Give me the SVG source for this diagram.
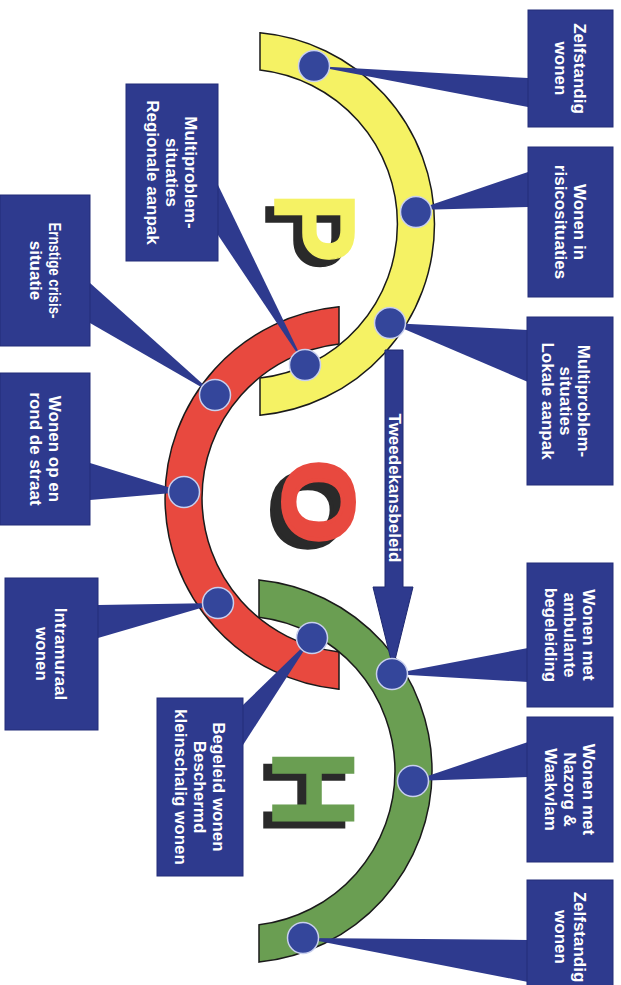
<svg xmlns="http://www.w3.org/2000/svg" width="621" height="985" viewBox="0 0 621 985">
<style>
.box{fill:#2e3a8e;stroke:#232d78;stroke-width:1}
.bt{font-family:"Liberation Sans",Arial,sans-serif;font-weight:bold;font-size:17px;fill:#ffffff;text-anchor:middle}
.band{stroke:#1a1a1a;stroke-width:1.5}
.wedge{fill:#2e3a8e}
.dot{fill:#34469b;stroke:#c9d0ee;stroke-width:1.5}
.big{font-family:"Liberation Sans",Arial,sans-serif;font-weight:bold;text-anchor:middle}
</style>
<rect width="621" height="985" fill="#ffffff"/>

<g id="arc-yellow"><path class="band" fill="#f5f264" d="M260,32.8 A192,192 0 0 1 260,415.2 L260,378 A155,155 0 0 0 260,70 Z"/></g>
<g id="arc-red"><path class="band" fill="#e8493f" d="M339,306.85 A192,192 0 0 0 339,689.15 L339,651.95 A155,155 0 0 1 339,344.05 Z"/></g>
<g id="arc-green"><path class="band" fill="#6a9e52" d="M259,579.94 A192,192 0 0 1 259,962.06 L259,924.83 A155,155 0 0 0 259,617.17 Z"/></g>

<g id="letter-P">
<text class="big" font-size="115" fill="#2a2a2a" stroke="#2a2a2a" stroke-width="1.5" transform="translate(266,235) rotate(90) scale(0.92,1)">P</text>
<text class="big" font-size="115" fill="#f5f264" stroke="#f5f264" stroke-width="1.5" transform="translate(275,227.5) rotate(90) scale(0.92,1)">P</text>
</g>
<g id="letter-O">
<text class="big" font-size="100" fill="#2a2a2a" stroke="#2a2a2a" stroke-width="4" transform="translate(273,510) rotate(90) scale(1.08,1)">O</text>
<text class="big" font-size="100" fill="#e8493f" stroke="#e8493f" stroke-width="4" transform="translate(284,502) rotate(90) scale(1.08,1)">O</text>
</g>
<g id="letter-H">
<text class="big" font-size="117" fill="#2a2a2a" stroke="#2a2a2a" stroke-width="1.5" transform="translate(264,796) rotate(90) scale(0.92,1)">H</text>
<text class="big" font-size="117" fill="#6a9e52" stroke="#6a9e52" stroke-width="1.5" transform="translate(273,789) rotate(90) scale(0.92,1)">H</text>
</g>

<g id="connectors">
<polygon class="wedge" points="528,78 528,107 314,66"/>
<polygon class="wedge" points="528,172 528,207 416,210"/>
<polygon class="wedge" points="528,330 528,382 390,323"/>
<polygon class="wedge" points="528,648 528,682 392,674"/>
<polygon class="wedge" points="528,742 528,777 413,781"/>
<polygon class="wedge" points="528,940 528,982 303,938"/>
<polygon class="wedge" points="218,185 218,235 305,365"/>
<polygon class="wedge" points="90,283 90,323 215,395"/>
<polygon class="wedge" points="90,463 90,500 184,492"/>
<polygon class="wedge" points="98,605 98,638 218,603"/>
<polygon class="wedge" points="243,705 243,745 312,638"/>
</g>

<g id="arrow-tweedekans">
<polygon fill="#2e3a8e" stroke="#1e2870" stroke-width="1" points="385,350 403,350 403,587 413,587 393,668 373,587 385,587"/>
<text class="bt" transform="translate(389,488) rotate(90)">Tweedekansbeleid</text>
</g>

<g id="dots">
<circle class="dot" cx="314" cy="66" r="15.5"/>
<circle class="dot" cx="416" cy="212" r="15.5"/>
<circle class="dot" cx="390" cy="323" r="15.5"/>
<circle class="dot" cx="305" cy="365" r="15.5"/>
<circle class="dot" cx="215" cy="395" r="15.5"/>
<circle class="dot" cx="184" cy="492" r="15.5"/>
<circle class="dot" cx="218" cy="603" r="15.5"/>
<circle class="dot" cx="312" cy="638" r="15.5"/>
<circle class="dot" cx="392" cy="674" r="15.5"/>
<circle class="dot" cx="413" cy="781" r="15.5"/>
<circle class="dot" cx="303" cy="938" r="15.5"/>
</g>

<g id="box-zelfstandig-1"><rect class="box" x="528" y="10" width="85" height="117"/>
<text class="bt" transform="translate(570.5,68.5) rotate(90)"><tspan x="0" y="-3.5">Zelfstandig</tspan><tspan x="0" y="15.5">wonen</tspan></text></g>
<g id="box-risico"><rect class="box" x="528" y="147" width="85" height="150"/>
<text class="bt" transform="translate(570.5,222) rotate(90)"><tspan x="0" y="-3.5">Wonen in</tspan><tspan x="0" y="15.5">risicosituaties</tspan></text></g>
<g id="box-lokaal"><rect class="box" x="527" y="317" width="86" height="168"/>
<text class="bt" transform="translate(566,401) rotate(90)"><tspan x="0" y="-12">Multiproblem-</tspan><tspan x="0" y="6">situaties</tspan><tspan x="0" y="24">Lokale aanpak</tspan></text></g>
<g id="box-ambulant"><rect class="box" x="527" y="563" width="86" height="144"/>
<text class="bt" transform="translate(570,635) rotate(90)"><tspan x="0" y="-13">Wonen met</tspan><tspan x="0" y="6">ambulante</tspan><tspan x="0" y="25">begeleiding</tspan></text></g>
<g id="box-nazorg"><rect class="box" x="527" y="717" width="86" height="145"/>
<text class="bt" transform="translate(570,789.5) rotate(90)"><tspan x="0" y="-13">Wonen met</tspan><tspan x="0" y="6">Nazorg &amp;</tspan><tspan x="0" y="25">Waakvlam</tspan></text></g>
<g id="box-zelfstandig-2"><rect class="box" x="527" y="880" width="86" height="130"/>
<text class="bt" transform="translate(570,937) rotate(90)"><tspan x="0" y="-3.5">Zelfstandig</tspan><tspan x="0" y="15.5">wonen</tspan></text></g>
<g id="box-regionaal"><rect class="box" x="126" y="84" width="92" height="177"/>
<text class="bt" transform="translate(172,172.5) rotate(90)"><tspan x="0" y="-13">Multiproblem-</tspan><tspan x="0" y="6">situaties</tspan><tspan x="0" y="25">Regionale aanpak</tspan></text></g>
<g id="box-crisis"><rect class="box" x="0" y="195" width="90" height="151"/>
<text class="bt" transform="translate(45,270.5) rotate(90)"><tspan x="0" y="-3.5" textLength="96" lengthAdjust="spacingAndGlyphs">Ernstige crisis-</tspan><tspan x="0" y="15.5">situatie</tspan></text></g>
<g id="box-straat"><rect class="box" x="0" y="373" width="90" height="152"/>
<text class="bt" transform="translate(45,449) rotate(90)"><tspan x="0" y="-3.5">Wonen op en</tspan><tspan x="0" y="15.5">rond de straat</tspan></text></g>
<g id="box-intramuraal"><rect class="box" x="5" y="578" width="93" height="152"/>
<text class="bt" transform="translate(51.5,654) rotate(90)"><tspan x="0" y="-3.5">Intramuraal</tspan><tspan x="0" y="15.5">wonen</tspan></text></g>
<g id="box-begeleid"><rect class="box" x="157" y="698" width="86" height="178"/>
<text class="bt" transform="translate(200,787) rotate(90)"><tspan x="0" y="-13">Begeleid wonen</tspan><tspan x="0" y="6">Beschermd</tspan><tspan x="0" y="25">kleinschalig wonen</tspan></text></g>
</svg>
